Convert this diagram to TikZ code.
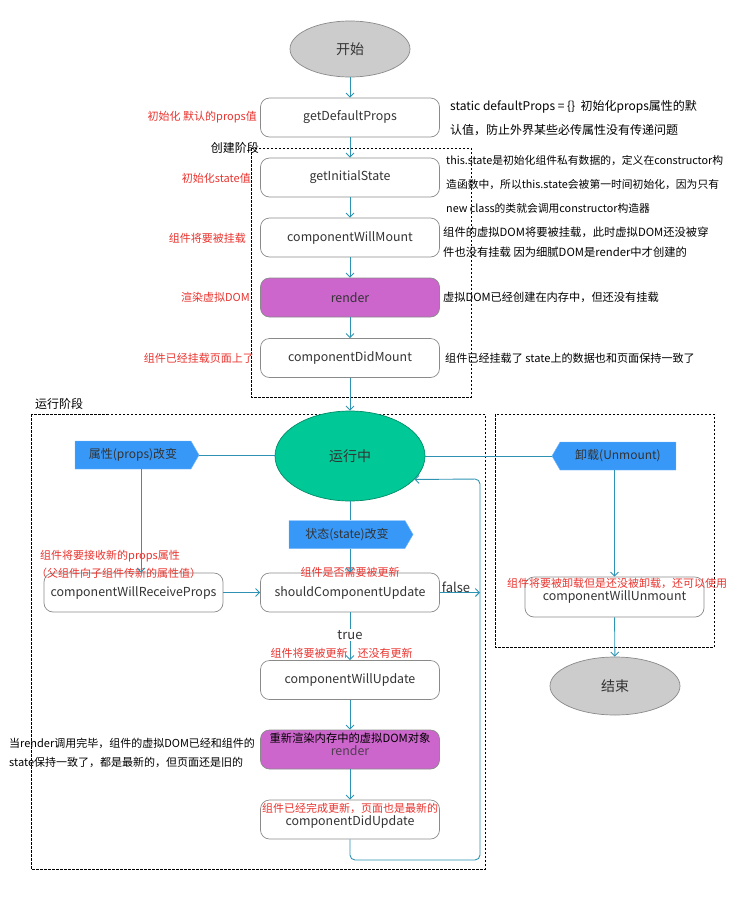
\documentclass[tikz,border=0pt]{standalone}
\usepackage{fontspec}
\setmainfont{Noto Sans CJK SC}
\usetikzlibrary{arrows.meta,shapes.geometric,shapes.symbols}
\definecolor{flow}{HTML}{2E93B3}
\definecolor{boxedge}{HTML}{8A8A8A}
\definecolor{note}{HTML}{E8332E}
\definecolor{tagblue}{HTML}{3898F8}
\definecolor{rendfill}{HTML}{CC66CC}
\definecolor{runfill}{HTML}{00C896}
\definecolor{termfill}{HTML}{CCCCCC}
\definecolor{ink}{HTML}{333333}
\begin{document}
\begin{tikzpicture}[x=1pt,y=-1pt,
  stepbox/.style={draw=boxedge, rounded corners=9pt, minimum width=179pt,
    minimum height=39pt, inner sep=0pt, line width=0.7pt, text=ink,
    font=\fontsize{12.4}{15}\selectfont},
  renderbox/.style={stepbox, fill=rendfill},
  terminal/.style={ellipse, draw=boxedge, fill=termfill, line width=0.7pt,
    inner sep=0pt, text=ink, font=\fontsize{14}{16}\selectfont},
  flowline/.style={draw=flow, line width=0.9pt},
  flowarrow/.style={flowline, -{Straight Barb[length=4pt,width=8pt]}},
  annot/.style={inner sep=0pt, anchor=west, align=left, text=black},
  redlabel/.style={inner sep=0pt, text=note, font=\fontsize{11}{13}\selectfont},
  phase/.style={draw=black, dash pattern=on 2.5pt off 1.5pt, line width=0.7pt},
  phaselabel/.style={inner sep=0pt, text=black, font=\fontsize{12}{14}\selectfont},
  eventtag/.style={signal, signal pointer angle=120, fill=tagblue,
    draw=tagblue!70!white, minimum height=28pt, minimum width=124pt,
    inner sep=0pt, text=ink, font=\fontsize{12}{14}\selectfont}
]
\useasboundingbox (0,0) rectangle (740,900);

% ---- phase frames
\draw[phase] (251,148) rectangle (471,397);
\node[phaselabel, anchor=east] (createlbl) at (259,148) {创建阶段};
\draw[phase] (31,414) rectangle (485,869);
\node[phaselabel, anchor=west] (runlbl) at (35,404) {运行阶段};
\draw[phase] (495,414) rectangle (714,647);

% ---- creation phase
\node[terminal, minimum width=120pt, minimum height=56pt] (start) at (350,49) {开始};
\node[stepbox] (gdp) at (350,117.5) {getDefaultProps};
\node[stepbox] (gis) at (350,177.5) {getInitialState};
\node[stepbox] (cwm) at (350,237.5) {componentWillMount};
\node[renderbox] (rend) at (350,297.5) {render};
\node[stepbox] (cdm) at (350,358) {componentDidMount};

\node[redlabel, anchor=east] (gdpnote) at (257,117) {初始化 默认的props值};
\node[redlabel, anchor=east] (gisnote) at (251,178) {初始化state值};
\node[redlabel, anchor=east] (cwmnote) at (246,238) {组件将要被挂载};
\node[redlabel, anchor=east] (rendnote) at (250,297) {渲染虚拟DOM};
\node[redlabel, anchor=east] (cdmnote) at (254,358) {组件已经挂载页面上了};

\node[annot, font=\fontsize{12}{24}\selectfont] (gdptext) at (450,118)
  {static defaultProps = \{\}\ \ 初始化props属性的默\\认值，防止外界某些必传属性没有传递问题};
\node[annot, font=\fontsize{10.8}{24}\selectfont] (gistext) at (446,184)
  {this.state是初始化组件私有数据的，定义在constructor构\\造函数中，所以this.state会被第一时间初始化，因为只有\\new class的类就会调用constructor构造器};
\node[annot, font=\fontsize{11.3}{20}\selectfont] (cwmtext) at (443,242.5)
  {组件的虚拟DOM将要被挂载，此时虚拟DOM还没被穿\\件也没有挂载 因为细腻DOM是render中才创建的};
\node[annot, font=\fontsize{11.2}{14}\selectfont] (rendtext) at (443,297)
  {虚拟DOM已经创建在内存中，但还没有挂载};
\node[annot, font=\fontsize{11.1}{14}\selectfont] (cdmtext) at (445,358)
  {组件已经挂载了 state上的数据也和页面保持一致了};

\draw[flowarrow] (start) -- (gdp);
\draw[flowarrow] (gdp) -- (gis);
\draw[flowarrow] (gis) -- (cwm);
\draw[flowarrow] (cwm) -- (rend);
\draw[flowarrow] (rend) -- (cdm);

% ---- running phase
\node[ellipse, draw=runfill!70!black, fill=runfill, line width=0.7pt,
  minimum width=150pt, minimum height=90pt, inner sep=0pt, text=ink,
  font=\fontsize{14}{16}\selectfont] (run) at (350,456) {运行中};
\draw[flowarrow] (cdm) -- (run);

\node[eventtag, signal to=east] (props) at (133,455) {属性(props)改变};
\node[eventtag, signal to=east] (state) at (347,534.5) {状态(state)改变};
\node[eventtag, signal to=west] (unmount) at (618,456) {卸载(Unmount)};

\node[stepbox] (cwrp) at (133.5,592.5) {componentWillReceiveProps};
\node[stepbox] (scu) at (350,592.5) {shouldComponentUpdate};
\node[stepbox] (cwu) at (350,680) {componentWillUpdate};
\node[renderbox] (rend2) at (350,749.5) {};
\node[stepbox] (cdu) at (350,819.5) {};
\node[inner sep=0pt, text=black, font=\fontsize{11.3}{14}\selectfont] (rend2top) at (350,738) {重新渲染内存中的虚拟DOM对象};
\node[inner sep=0pt, text=ink!80!rendfill, font=\fontsize{12.4}{15}\selectfont] (rend2name) at (350,751) {render};
\node[redlabel] (cdunote) at (350,808) {组件已经完成更新，页面也是最新的};
\node[inner sep=0pt, text=ink, font=\fontsize{12.4}{15}\selectfont] (cduname) at (350,822) {componentDidUpdate};

\node[redlabel, anchor=west] (cwrpnote1) at (40,556) {组件将要接收新的props属性};
\node[redlabel, anchor=west] (cwrpnote2) at (36,573) {（父组件向子组件传新的属性值）};
\node[redlabel] (scunote) at (350,572) {组件是否需要被更新};
\node[redlabel] (cwunote) at (341.5,653) {组件将要被更新\hspace{10pt}还没有更新};
\node[annot, font=\fontsize{11}{19}\selectfont] (rend2text) at (9,752.5)
  {当render调用完毕，组件的虚拟DOM已经和组件的\\state保持一致了，都是最新的，但页面还是旧的};

\draw[flowline] (props.east) -- (props.east -| run.west);
\draw[flowline] (run.east |- unmount.west) -- (unmount.west);
\coordinate (propsdrop) at (141,469);
\draw[flowarrow] (propsdrop) -- (propsdrop |- cwrp.north);
\draw[flowline] (run.south) -- (run.south |- state.north);
\draw[flowarrow] (scu.north |- state.south) -- (scu.north);
\draw[flowarrow] (cwrp.east) -- (scu.west);

\coordinate (falseend) at (480,592.5);
\draw[flowarrow] (scu.east) -- (falseend);
\node[inner sep=0pt, text=ink, font=\fontsize{13}{15}\selectfont] (falselbl) at (456,587) {false};

\draw[flowarrow] (scu.south) -- (cwu.north);
\node[fill=white, inner sep=1pt, text=ink, font=\fontsize{13}{15}\selectfont] (truelbl) at (350,635) {true};
\draw[flowarrow] (cwu) -- (rend2);
\draw[flowarrow] (rend2) -- (cdu);

\coordinate (loopbl) at (350,860);
\coordinate (loopbr) at (480,860);
\coordinate (looptr) at (480,479);
\draw[flowarrow, rounded corners=5pt] (cdu.south) -- (loopbl) -- (loopbr) -- (looptr) -- (run.-20);

% ---- unmount phase
\node[stepbox, minimum height=40pt] (cwun) at (614.5,597) {componentWillUnmount};
\node[redlabel] (cwunnote) at (617,583) {组件将要被卸载但是还没被卸载，还可以使用};
\node[terminal, minimum width=130pt, minimum height=58pt] (stop) at (615,686) {结束};
\draw[flowarrow] (unmount.south -| cwun.north) -- (cwun.north);
\draw[flowarrow] (cwun) -- (stop);

\end{tikzpicture}
\end{document}
